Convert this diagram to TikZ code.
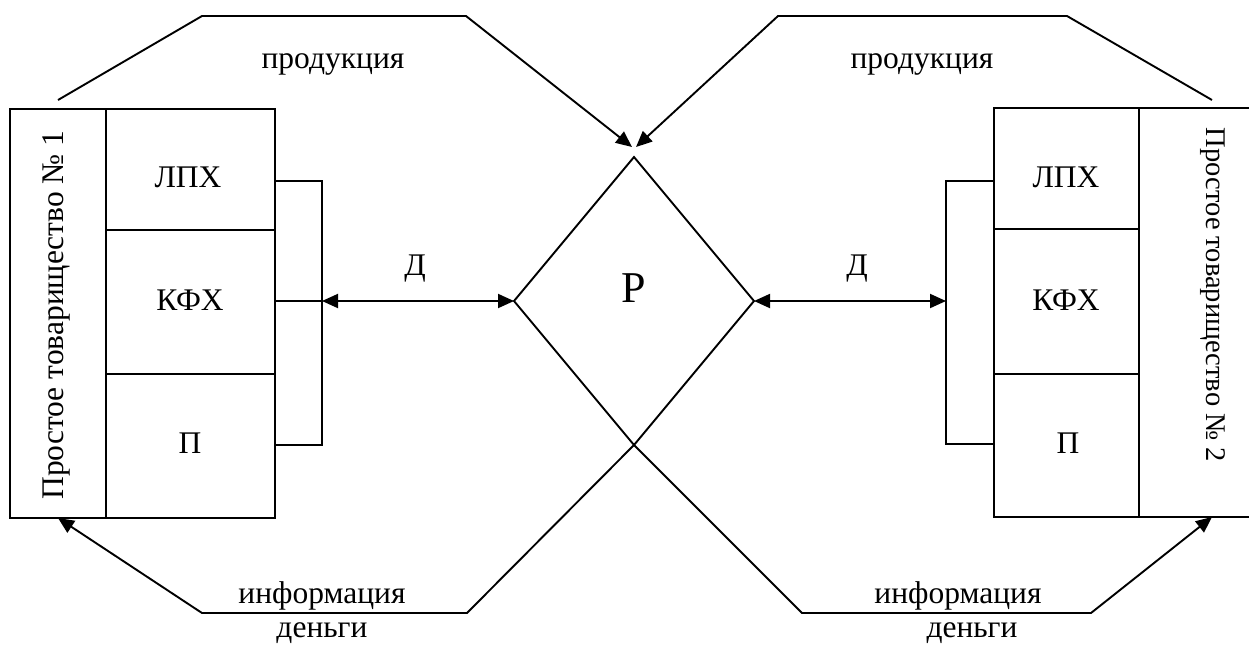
\documentclass[tikz,border=0pt]{standalone}
\usepackage{fontspec}
\setmainfont{Liberation Serif}
\usetikzlibrary{shapes.geometric,arrows.meta}
\begin{document}
\begin{tikzpicture}[x=1pt,y=-1pt,line width=1.9pt,
  box/.style={draw,rectangle,inner sep=0pt,outer sep=0pt},
  lbl/.style={font=\fontsize{31.5}{36}\selectfont,inner sep=0pt},
  arr/.style={-{Triangle[length=16pt,width=14pt]}},
  darr/.style={{Triangle[length=16pt,width=14pt]}-{Triangle[length=16pt,width=14pt]}}]
\useasboundingbox (0,0) rectangle (1249,646);
% left block
\node[box,minimum width=96pt,minimum height=409pt] (col1) at (58,313.5) {};
\node[box,minimum width=169pt,minimum height=121pt] (lph1) at (190.5,169.5) {};
\node[box,minimum width=169pt,minimum height=144pt] (kfh1) at (190.5,302) {};
\node[box,minimum width=169pt,minimum height=144pt] (p1) at (190.5,446) {};
\node[lbl,rotate=90,anchor=base] (t1) at (63,315) {Простое товарищество №~1};
\node[lbl] (l1) at (188,177) {ЛПХ};
\node[lbl] (k1) at (190,300) {КФХ};
\node[lbl] (pp1) at (190,443) {П};
% right block
\node[box,minimum width=145pt,minimum height=121pt] (lph2) at (1066.5,168.5) {};
\node[box,minimum width=145pt,minimum height=145pt] (kfh2) at (1066.5,301.5) {};
\node[box,minimum width=145pt,minimum height=143pt] (p2) at (1066.5,445.5) {};
\node[inner sep=0pt,outer sep=0pt,minimum width=146pt,minimum height=409pt] (col2) at (1212,312.5) {};
\coordinate (eR1) at (1249,108);
\coordinate (eR2) at (1249,517);
\draw (lph2.north east) -- (eR1);
\draw (p2.south east) -- (eR2);
\node[lbl,font=\fontsize{28.5}{32}\selectfont,rotate=-90,anchor=base] (t2) at (1206,295) {Простое товарищество №~2};
\node[lbl] (l2) at (1066,177) {ЛПХ};
\node[lbl] (k2) at (1066,300) {КФХ};
\node[lbl] (pp2) at (1068,443) {П};
% market
\node[draw,diamond,minimum width=240pt,minimum height=288pt,inner sep=0pt,outer sep=0pt] (R) at (634,301) {};
\node[inner sep=0pt,font=\fontsize{44}{48}\selectfont] (Rt) at (634,288) {Р};
% brackets
\coordinate (bl1) at (322,181);
\coordinate (bl2) at (322,301);
\coordinate (bl3) at (322,445);
\draw (bl1 -| lph1.east) -- (bl1) -- (bl3) -- (bl3 -| p1.east);
\draw (bl2 -| kfh1.east) -- (bl2);
\coordinate (br1) at (946,181);
\coordinate (br2) at (946,301);
\coordinate (br3) at (946,444);
\draw (br1 -| lph2.west) -- (br1) -- (br3) -- (br3 -| p2.west);
\draw[darr] (bl2) -- (R.west);
\draw[darr] (R.east) -- (br2);
\node[lbl] (d1) at (415,269) {Д};
\node[lbl] (d2) at (857,269) {Д};
% top flows
\coordinate (tl0) at (58,100);
\coordinate (tl1) at (202,16);
\coordinate (tl2) at (466,16);
\coordinate (tipL) at (632,147);
\coordinate (tr0) at (1212,100);
\coordinate (tr1) at (1067,16);
\coordinate (tr2) at (778,16);
\coordinate (tipR) at (636,147);
\draw[arr] (tl0) -- (tl1) -- (tl2) -- (tipL);
\draw[arr] (tr0) -- (tr1) -- (tr2) -- (tipR);
\node[lbl,anchor=base] (pr1) at (333,68) {продукция};
\node[lbl,anchor=base] (pr2) at (922,68) {продукция};
% bottom flows
\coordinate (bl4) at (467,613);
\coordinate (bl5) at (202,613);
\coordinate (br4) at (802,613);
\coordinate (br5) at (1091,613);
\draw[arr] (R.south) -- (bl4) -- (bl5) -- (col1.south);
\draw[arr] (R.south) -- (br4) -- (br5) -- (col2.south);
\node[lbl,anchor=base] (i1) at (322,603) {информация};
\node[lbl,anchor=base] (m1) at (322,637) {деньги};
\node[lbl,anchor=base] (i2) at (958,603) {информация};
\node[lbl,anchor=base] (m2) at (972,637) {деньги};
\end{tikzpicture}
\end{document}
